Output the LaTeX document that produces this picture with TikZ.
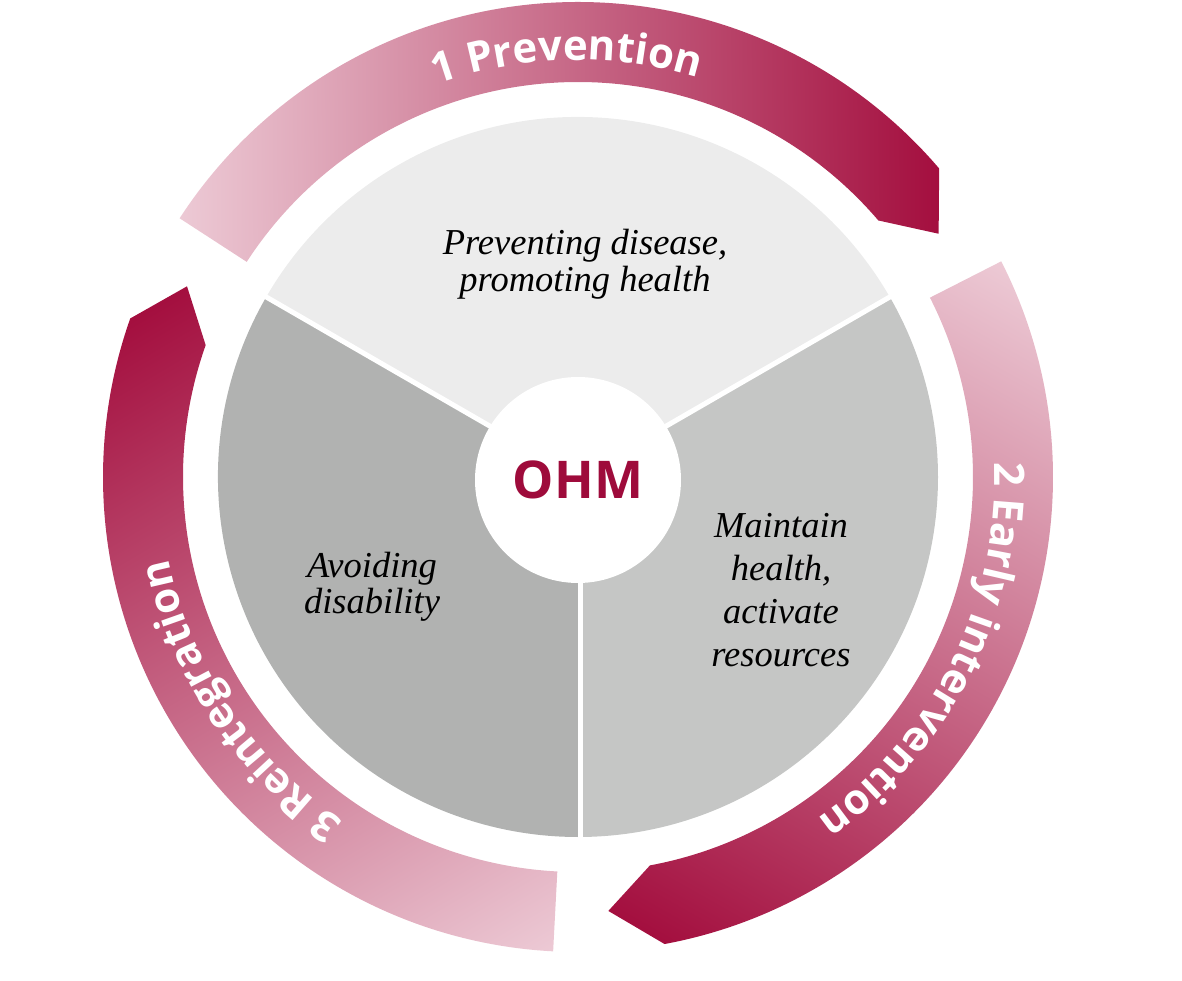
\documentclass[tikz,border=0pt]{standalone}
\usepackage{fontspec}
\usetikzlibrary{decorations.text}
\newfontfamily\opensans{Open Sans}
\newfontfamily\serifit{Liberation Serif}
\definecolor{secTop}{HTML}{ECECEC}
\definecolor{secLeft}{HTML}{B1B2B1}
\definecolor{secRight}{HTML}{C5C6C5}
\definecolor{ohmred}{HTML}{9E0B3B}
\definecolor{arrowpale}{HTML}{EDCBD6}
\definecolor{arrowdark}{HTML}{A00537}
\newcommand{\arcfont}{\fontsize{42}{42}\selectfont\opensans\bfseries\color{white}}
\tikzset{
  label text/.style={font=\serifit\itshape\fontsize{36.5}{#1}\selectfont, align=center, text=black, inner sep=0pt},
  arc label/.style={decorate, decoration={text along path, text align=center, text={|\arcfont|#1}}},
}
\begin{document}
\begin{tikzpicture}[x=1pt,y=1pt]
\useasboundingbox (-578,-504) rectangle (604,477);
% arrows
\foreach \k in {0,1,2} {
  \pgfmathsetmacro\angT{147-120*\k}
  \pgfmathsetmacro\angH{\angT-106.5}
  \pgfmathsetmacro\angP{\angH-6.5}
  \pgfmathsetmacro\angG{0.5-120*\k}
  \begin{scope}
    \clip (\angT:475) arc[start angle=\angT, end angle=\angH, radius=475]
      -- (\angP:435) -- (\angH:395)
      arc[start angle=\angH, end angle=\angT, radius=395] -- cycle;
    \begin{scope}[transform canvas={rotate=\angG}]
      \shade[left color=arrowpale, right color=arrowdark] (-402,-600) rectangle (402,600);
    \end{scope}
  \end{scope}
}
% arc labels
\path[arc label={1 Prevention}] (151.5:417) arc[start angle=151.5, end angle=31.5, radius=417];
\path[arc label={2 Early intervention}] (33.5:417) arc[start angle=33.5, end angle=-86.5, radius=417];
\path[arc label={3 Reintegration}] (273.5:417) arc[start angle=273.5, end angle=153.5, radius=417];
% pie
\fill[secTop] (0,0) -- (30:360) arc[start angle=30, end angle=150, radius=360] -- cycle;
\fill[secLeft] (0,0) -- (150:360) arc[start angle=150, end angle=270, radius=360] -- cycle;
\fill[secRight] (0,0) -- (270:360) arc[start angle=270, end angle=390, radius=360] -- cycle;
\draw[white, line width=5] (0,0) -- (30:362);
\draw[white, line width=5] (0,0) -- (150:362);
\draw[white, line width=5] (2,0) -- (2,-362);
\node[circle, fill=white, minimum size=206, inner sep=0pt, text=ohmred, font=\opensans\bfseries\fontsize{52}{52}\selectfont] (ohm) at (0,-3) {OHM};
% sector labels
\node[label text=37] (prev) at (7,213) {Preventing disease,\\promoting health};
\node[label text=43] (maint) at (203,-113) {Maintain\\health,\\activate\\resources};
\node[label text=36] (avoid) at (-206,-110) {Avoiding\\disability};
\end{tikzpicture}
\end{document}
